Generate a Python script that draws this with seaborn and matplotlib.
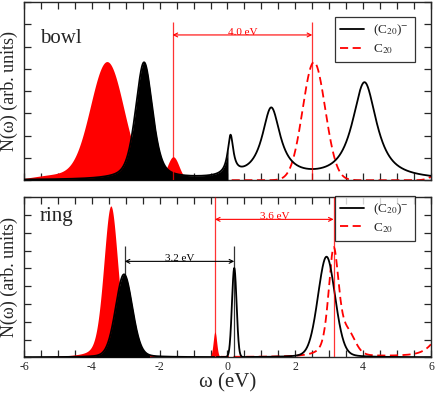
import numpy as np
import pandas as pd
import seaborn as sns
import matplotlib.pyplot as plt
from matplotlib.lines import Line2D
from matplotlib.ticker import MultipleLocator

# peak parameters: centre (eV), height, fwhm (eV), lorentzian fraction
bowl_anion_pos = [-2.46, 0.09, 1.29, 4.04]
bowl_anion_height = [5.25, 1.75, 3.15, 4.35]
bowl_anion_fwhm = [0.59, 0.20, 0.65, 0.85]
bowl_anion_eta = [0.45, 1.0, 1.0, 0.9]

bowl_neutral_pos = [-3.55, -5.0, -1.6, 2.55, 6.4]
bowl_neutral_height = [5.3, 0.25, 1.05, 5.3, 0.55]
bowl_neutral_fwhm = [1.16, 1.6, 0.4, 0.78, 0.6]
bowl_neutral_eta = [0.0, 0.0, 0.0, 0.0, 0.0]

ring_anion_pos = [-3.05, 0.2, 2.92]
ring_anion_height = [4.66, 5.0, 5.65]
ring_anion_fwhm = [0.58, 0.16, 0.6]
ring_anion_eta = [0.15, 0.0, 0.15]

ring_neutral_pos = [-3.44, -0.37, 3.13, 3.55, 6.6]
ring_neutral_height = [8.5, 1.4, 6.0, 1.1, 2.2]
ring_neutral_fwhm = [0.5, 0.12, 0.36, 0.5, 0.9]
ring_neutral_eta = [0.3, 0.0, 0.5, 0.0, 0.5]

# occupied states are filled up to these energies
bowl_fill = {'anion': 0.02, 'neutral': -1.0}
ring_fill = {'anion': -2.3, 'neutral': -0.2}

# gap markers: (left, right, label, line top, arrow height)
bowl_gap_red = (-1.62, 2.5, '4.0 eV', 7.1, 6.52)
ring_gap_red = (-0.37, 3.13, '3.6 eV', 9.0, 7.75)
ring_gap_black = (-3.03, 0.2, '3.2 eV', 6.24, 5.39)

w = np.linspace(-6, 6, 2401)


def dos(pos, height, fwhm, eta):
    y = np.zeros_like(w)
    for x0, h, f, e in zip(pos, height, fwhm, eta):
        u = (w - x0) / f
        y += h * (e / (1 + 4 * u**2) + (1 - e) * np.exp(-4 * np.log(2) * u**2))
    return y


sns.set_style("ticks")
plt.rcParams['font.family'] = ['Liberation Serif', 'DejaVu Serif']
plt.rcParams['mathtext.fontset'] = 'stix'
plt.rcParams['axes.unicode_minus'] = False

fig, (ax1, ax2) = plt.subplots(2, 1, figsize=(4.36, 3.97), dpi=100,
                               gridspec_kw={'height_ratios': [178, 160]})
fig.subplots_adjust(left=0.055, right=0.9885, top=0.995, bottom=0.1, hspace=0.1)

panels = [
    (ax1, 'bowl', 8, bowl_fill,
     dos(bowl_anion_pos, bowl_anion_height, bowl_anion_fwhm, bowl_anion_eta),
     dos(bowl_neutral_pos, bowl_neutral_height, bowl_neutral_fwhm, bowl_neutral_eta)),
    (ax2, 'ring', 9, ring_fill,
     dos(ring_anion_pos, ring_anion_height, ring_anion_fwhm, ring_anion_eta),
     dos(ring_neutral_pos, ring_neutral_height, ring_neutral_fwhm, ring_neutral_eta)),
]

for ax, name, ytop, fill, anion, neutral in panels:
    df = pd.DataFrame({'w': w, 'anion': anion, 'neutral': neutral})
    occ_n = df['w'] <= fill['neutral']
    occ_a = df['w'] <= fill['anion']
    # dashed line only over the empty states, the filled part has no outline
    sns.lineplot(data=df[~occ_n], x='w', y='neutral', ax=ax, color='red', lw=1.3,
                 linestyle=(0, (4.5, 2.5)), zorder=1)
    ax.fill_between(df['w'][occ_n], 0, df['neutral'][occ_n], color='red', lw=0, zorder=2)
    ax.fill_between(df['w'][occ_a], 0, df['anion'][occ_a], color='black', lw=0, zorder=3)
    sns.lineplot(data=df, x='w', y='anion', ax=ax, color='black', lw=1.3, zorder=4)

    ax.set_xlim(-6, 6)
    ax.set_ylim(0, ytop)
    ax.xaxis.set_major_locator(MultipleLocator(2))
    ax.xaxis.set_minor_locator(MultipleLocator(0.5))
    ax.yaxis.set_major_locator(MultipleLocator(1))
    ax.tick_params(which='both', direction='in', top=True, right=True,
                   length=5, width=0.9, labelsize=8.5, pad=3)
    ax.set_yticklabels([])
    ax.set_ylabel('N(ω) (arb. units)', fontsize=13, labelpad=1)
    for s in ax.spines.values():
        s.set_linewidth(1.0)

    handles = [Line2D([], [], color='black', lw=1.3),
               Line2D([], [], color='red', lw=1.3, linestyle=(0, (4.5, 2.5)))]
    leg = ax.legend(handles, [r'(C$_{20}$)$^{-}$', r'C$_{20}$'],
                    loc='upper right',
                    bbox_to_anchor=(0.961, 0.916 if name == 'bowl' else 1.01),
                    fontsize=9.5, frameon=True, fancybox=False, handlelength=1.8,
                    handletextpad=0.7, borderpad=0.45, labelspacing=0.3,
                    borderaxespad=0)
    leg.get_frame().set_edgecolor('black')
    leg.get_frame().set_linewidth(0.9)
    leg.set_zorder(10)

ax1.set_xticklabels([])
ax1.set_xlabel('')
ax2.set_xlabel('ω (eV)', fontsize=15, labelpad=0)

ax1.text(-5.53, 6.16, 'bowl', fontsize=15)
ax2.text(-5.53, 7.66, 'ring', fontsize=15)


def gap(ax, g, color):
    left, right, label, top, yarr = g
    ax.vlines([left, right], 0, top, color=color, lw=0.9, alpha=0.8, zorder=5)
    ax.annotate('', xy=(left, yarr), xytext=(right, yarr),
                arrowprops=dict(arrowstyle='<->', color=color, lw=0.8,
                                shrinkA=0, shrinkB=0, mutation_scale=7),
                zorder=5)
    ax.text((left + right) / 2, yarr, label, color=color, fontsize=8,
            ha='center', va='baseline')


gap(ax1, bowl_gap_red, 'red')
gap(ax2, ring_gap_red, 'red')
gap(ax2, ring_gap_black, 'black')

fig.savefig('out.png', dpi=100)
